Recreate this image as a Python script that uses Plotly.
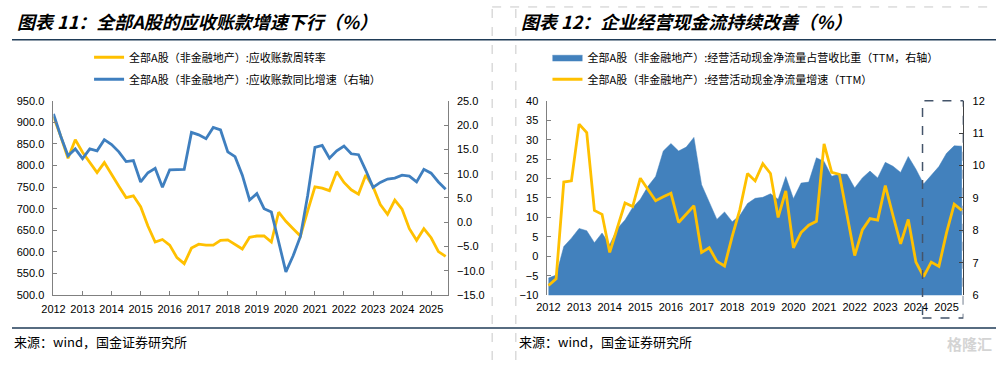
import plotly.graph_objects as go

W, H = 996, 366

# ---------------- data ----------------
years = [2012, 2013, 2014, 2015, 2016, 2017, 2018, 2019, 2020, 2021, 2022, 2023, 2024, 2025]
year_labels = [str(y) for y in years]
quarters = [f"{y}Q{q}" for y in years for q in (1, 2, 3, 4)][:55]

# Chart 11
ar_turnover = [913, 868, 817, 860, 831, 808, 784, 807, 778, 752,
               726, 730, 705, 660, 623, 629, 616, 587, 573, 609,
               618, 616, 616, 627, 628, 618, 607, 634, 637, 637,
               623, 692, 671, 654, 637, 695, 751, 748, 742, 786,
               761, 744, 734, 778, 751, 710, 687, 720, 699, 654,
               627, 654, 633, 601, 590]
ar_yoy = [22.3, 17.7, 13.7, 15.1, 13.1, 15.1, 14.7, 17.0, 16.0, 14.5,
          12.5, 12.7, 8.3, 10.2, 11.1, 7.2, 10.8, 10.9, 10.9, 18.5,
          18.0, 17.2, 19.5, 19.0, 14.5, 13.5, 9.7, 4.6, 5.9, 2.8,
          2.1, -4.0, -10.2, -6.9, -2.9, 5.5, 15.4, 15.8, 13.2, 14.7,
          15.7, 14.1, 13.9, 10.7, 7.2, 8.2, 8.9, 9.1, 9.7, 9.5,
          8.3, 10.9, 10.1, 8.3, 6.8]

# Chart 12
cfo_ratio = [6.53, 6.62, 7.50, 7.76, 8.06, 7.99, 7.62, 7.92, 7.56, 8.06,
             8.32, 8.71, 8.96, 9.36, 9.66, 10.45, 10.68, 10.45, 10.57, 10.87,
             9.41, 8.86, 8.34, 8.57, 8.27, 8.46, 8.83, 8.99, 9.02, 9.13,
             8.96, 9.66, 8.98, 9.46, 9.49, 10.24, 10.13, 9.67, 9.74, 9.73,
             9.31, 9.62, 9.83, 9.62, 10.10, 9.98, 9.79, 10.28, 9.89, 9.43,
             9.71, 9.97, 10.38, 10.61, 10.60]
cfo_growth = [-7.5, -5.8, 19.1, 19.4, 34.0, 31.8, 11.8, 10.8, 1.0, 7.2,
              13.7, 12.8, 20.1, 17.2, 14.3, 15.3, 16.2, 8.7, 10.8, 13.0,
              1.0, 2.2, -1.3, -2.5, 5.1, 12.0, 21.3, 19.4, 23.8, 21.3,
              10.0, 16.8, 2.2, 6.1, 8.0, 9.0, 28.9, 21.6, 21.1, 10.5,
              0.2, 6.8, 9.7, 9.3, 18.2, 10.5, 3.2, 9.5, -1.5, -5.2,
              -1.5, -2.6, 6.1, 13.4, 11.8]

title_left = "图表 11：全部A股的应收账款增速下行（%）"
title_right = "图表 12：企业经营现金流持续改善（%）"
name_turnover = "全部A股（非金融地产）:应收账款周转率"
name_yoy = "全部A股（非金融地产）:应收账款同比增速（右轴）"
name_ratio = "全部A股（非金融地产）:经营活动现金净流量占营收比重（TTM，右轴）"
name_growth = "全部A股（非金融地产）:经营活动现金净流量增速（TTM）"
source_text = "来源：wind，国金证券研究所"

# ---------------- style ----------------
YELLOW = "#FFC000"
BLUE = "#3F7FBF"
AREA = "#4281BD"
GREY_AX = "#808080"
CJK = "Noto Sans CJK SC"
NUM = "Liberation Sans, Arial"


def px(x):
    return x / W


def py(y):
    return 1 - y / H


x_idx = list(range(len(quarters)))
tickvals = [quarters.index(f"{y}Q1") for y in years]

Ldom = [px(42), px(441)]
Rdom = [px(542), px(963)]
Ydom = [py(299), py(98)]

fig = go.Figure()

# left chart
fig.add_trace(go.Scatter(x=x_idx, y=ar_turnover, name=name_turnover, mode="lines",
                         line=dict(color=YELLOW, width=2.8), xaxis="x", yaxis="y",
                         legend="legend", legendgroup="a", hovertext=quarters))
fig.add_trace(go.Scatter(x=x_idx, y=ar_yoy, name=name_yoy, mode="lines",
                         line=dict(color=BLUE, width=2.8), xaxis="x", yaxis="y2",
                         legend="legend", legendgroup="b", hovertext=quarters))
# right chart: base axis y3 = right scale (area), overlay y4 = left scale (line on top)
fig.add_trace(go.Scatter(x=x_idx, y=cfo_ratio, name=name_ratio, mode="lines",
                         fill="tozeroy", fillcolor=AREA,
                         line=dict(color=AREA, width=0.5), xaxis="x2", yaxis="y3",
                         legend="legend2", legendgroup="c", hovertext=quarters))
fig.add_trace(go.Scatter(x=x_idx, y=cfo_growth, name=name_growth, mode="lines",
                         line=dict(color=YELLOW, width=2.8), xaxis="x2", yaxis="y4",
                         legend="legend2", legendgroup="d", hovertext=quarters))

tickfont = dict(family=NUM, size=11, color="#000000")
common_x = dict(tickmode="array", tickvals=tickvals, ticktext=year_labels,
                showgrid=False, zeroline=False, tickfont=tickfont, ticklabelstandoff=4)

fig.update_layout(
    width=W, height=H, margin=dict(l=0, r=0, t=0, b=0),
    paper_bgcolor="white", plot_bgcolor="rgba(0,0,0,0)",
    xaxis=dict(domain=Ldom, anchor="y", range=[0, 54.28], showline=True, linecolor=GREY_AX,
               linewidth=1, ticks="inside", ticklen=4, tickcolor=GREY_AX, **common_x),
    yaxis=dict(domain=Ydom, anchor="x", range=[500, 950], dtick=50, tick0=500, tickformat=".1f",
               showline=True, linecolor=GREY_AX, linewidth=1, ticks="inside", ticklen=4,
               tickcolor=GREY_AX, showgrid=False, zeroline=False, tickfont=tickfont,
               ticklabelstandoff=6),
    yaxis2=dict(overlaying="y", anchor="x", side="right", range=[-15, 25], dtick=5, tick0=-15,
                tickformat=".1f", showline=True, linecolor=GREY_AX, linewidth=1, ticks="inside",
                ticklen=4, tickcolor=GREY_AX, showgrid=False, zeroline=False, tickfont=tickfont,
                ticklabelstandoff=6),
    xaxis2=dict(domain=Rdom, anchor="y3", range=[-0.13, 54.2], showline=False, ticks="",
                **common_x),
    yaxis3=dict(domain=Ydom, anchor="x2", side="right", range=[6, 12], dtick=1, tick0=6,
                showline=True, linecolor="#404040", linewidth=1, ticks="inside", ticklen=4,
                tickcolor="#404040", showgrid=False, zeroline=False, tickfont=tickfont,
                ticklabelstandoff=6),
    yaxis4=dict(overlaying="y3", anchor="x2", side="left", range=[-10, 40], dtick=5, tick0=-10,
                showline=True, linecolor=GREY_AX, linewidth=1, ticks="inside", ticklen=4,
                tickcolor=GREY_AX, showgrid=False, zeroline=False, tickfont=tickfont,
                ticklabelstandoff=6),
    xaxis3=dict(overlaying="x2", anchor="free",
                position=Ydom[0] + (0 - (-10)) / 50 * (Ydom[1] - Ydom[0]),
                range=[-0.13, 54.2], tickmode="array", tickvals=tickvals, showticklabels=False,
                showline=True, linecolor="#000000", linewidth=1.3, ticks="inside", ticklen=4,
                tickcolor="#000000", showgrid=False, zeroline=False, layer="above traces"),
    legend=dict(x=px(78), y=py(38), xanchor="left", yanchor="top", bgcolor="rgba(0,0,0,0)",
                font=dict(family=CJK, size=11, color="#000000"), tracegroupgap=3,
                itemwidth=30),
    legend2=dict(x=px(542), y=py(38), xanchor="left", yanchor="top", bgcolor="rgba(0,0,0,0)",
                 font=dict(family=CJK, size=11, color="#000000"), tracegroupgap=3,
                 itemwidth=30),
    showlegend=True,
)

# titles, footers
ann = []
for x0, t in ((3, title_left), (513, title_right)):
    ann.append(dict(x=px(x0), y=py(16), xref="paper", yref="paper", xanchor="left",
                    yanchor="middle", text=t, showarrow=False,
                    font=dict(family=CJK, size=18, color="#000000", weight="bold",
                              style="italic")))
for x0 in (0, 511):
    ann.append(dict(x=px(x0), y=py(347), xref="paper", yref="paper", xanchor="left",
                    yanchor="middle", text=source_text, showarrow=False,
                    font=dict(family=CJK, size=13, color="#000000")))
ann.append(dict(x=px(994), y=py(349), xref="paper", yref="paper", xanchor="right",
                yanchor="middle", text="格隆汇", showarrow=False,
                font=dict(family=CJK, size=15, color="#d4d4d4", weight="bold")))
fig.update_layout(annotations=ann)

shapes = [
    # title underline and footer line
    dict(type="line", xref="paper", yref="paper", x0=0, x1=1, y0=py(35), y1=py(35),
         line=dict(color="#1F3B57", width=1.5)),
    dict(type="line", xref="paper", yref="paper", x0=0, x1=1, y0=py(333), y1=py(333),
         line=dict(color="#1F3B57", width=1.5)),
    # panel separators
    dict(type="line", xref="paper", yref="paper", x0=px(486), x1=px(486), y0=0, y1=1,
         line=dict(color="#C8C8C8", width=1, dash="dash")),
    dict(type="line", xref="paper", yref="paper", x0=px(510), x1=px(510), y0=0, y1=1,
         line=dict(color="#C8C8C8", width=1, dash="dash")),
    dict(type="line", xref="paper", yref="paper", x0=px(486), x1=1, y0=py(1), y1=py(1),
         line=dict(color="#C8C8C8", width=1, dash="dash")),
    # highlight box on right chart (2024Q2 onwards)
    dict(type="rect", xref="x2", yref="paper", x0=48.86, x1=54.2, y0=py(322.5), y1=Ydom[1],
         line=dict(color="#44546A", width=1.5, dash="dash"), fillcolor="rgba(0,0,0,0)",
         layer="above"),
]
fig.update_layout(shapes=shapes)

fig.write_html(
    "out.html",
    config={"displayModeBar": False},
    post_script="document.body.style.margin='0';document.body.style.padding='0';"
                "document.body.style.overflow='hidden';",
)
